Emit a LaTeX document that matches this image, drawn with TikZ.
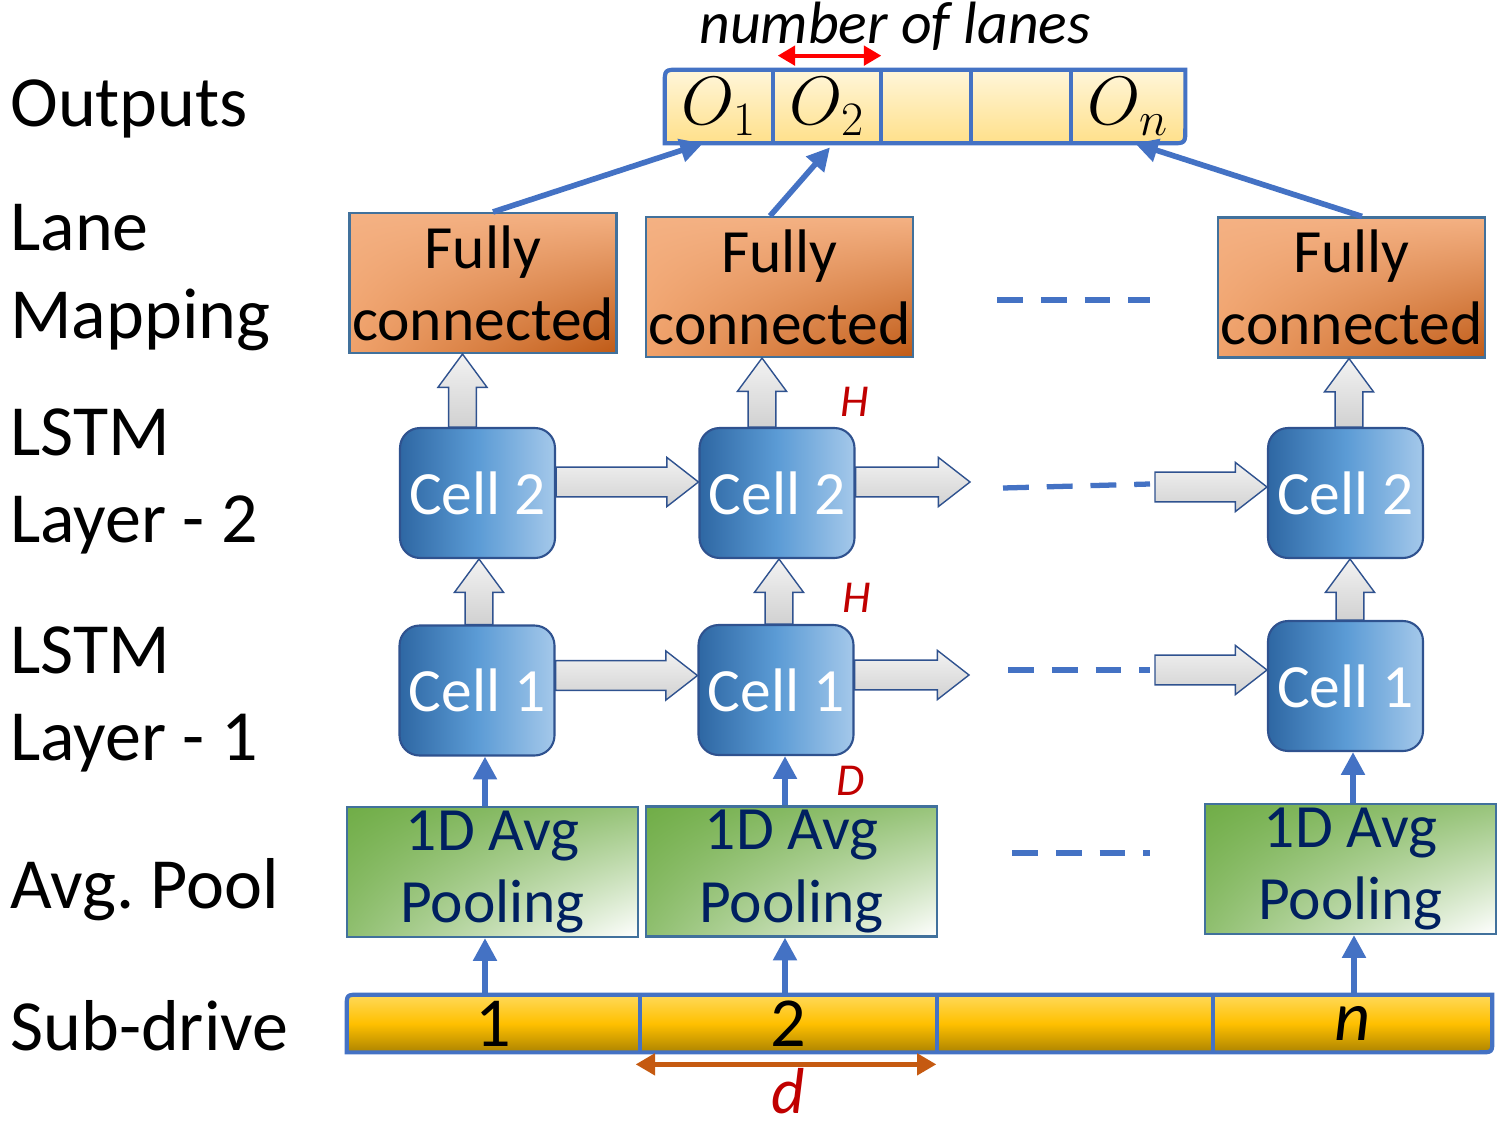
\RequirePackage{fix-cm}
\documentclass[tikz,border=0pt]{standalone}
\usepackage{fontspec}
\setmainfont{Carlito}
\usetikzlibrary{arrows.meta,backgrounds,calc,shadings}
\frenchspacing

\definecolor{lineblue}{HTML}{4472C4}
\definecolor{edgeblue}{HTML}{41719C}
\definecolor{celledge}{HTML}{2F528F}
\definecolor{fclight}{HTML}{F4B183}
\definecolor{fcmid}{HTML}{F0A26B}
\definecolor{fcdark}{HTML}{BF5A16}
\definecolor{celldark}{HTML}{2E67A3}
\definecolor{cellmid}{HTML}{5B9BD5}
\definecolor{celllight}{HTML}{A4C8EA}
\definecolor{poolgreen}{HTML}{70AD47}
\definecolor{navy}{HTML}{002060}
\definecolor{darkred}{HTML}{C00000}
\definecolor{dorange}{HTML}{C55A11}
\definecolor{outtop}{HTML}{FFF6DA}
\definecolor{outbot}{HTML}{FFE08A}
\definecolor{subtop}{HTML}{FFD95A}
\definecolor{submid}{HTML}{FFC000}
\definecolor{subbot}{HTML}{AD8400}

\tikzset{
  fcbox/.style={draw=edgeblue, line width=1.2pt, minimum width=5.34cm, minimum height=2.8cm,
    inner sep=0pt, align=center, upper left=fclight, upper right=fclight,
    lower left=fcmid, lower right=fcdark, font=\fontsize{35}{41}\selectfont},
  cellbox/.style={draw=celledge, line width=1.2pt, rounded corners=0.4cm, minimum width=3.1cm,
    minimum height=2.6cm, inner sep=0pt, left color=celldark, right color=celllight,
    middle color=cellmid, text=white, font=\fontsize{35}{41}\selectfont},
  poolbox/.style={draw=edgeblue, line width=1.2pt, minimum width=5.82cm, minimum height=2.6cm,
    inner sep=0pt, align=center, upper left=poolgreen, upper right=poolgreen!72,
    lower left=poolgreen!78, lower right=white, text=navy, font=\fontsize{35}{41}\selectfont},
  outseg/.style={minimum height=1.46cm, inner sep=0pt, font=\fontsize{39}{42}\selectfont},
  subseg/.style={minimum height=1.14cm, inner sep=0pt, font=\fontsize{40}{44}\selectfont},
  lbl/.style={anchor=base west, inner sep=0pt, font=\fontsize{41}{49}\selectfont},
  redlbl/.style={text=darkred, inner sep=0pt, font=\fontsize{26}{30}\selectfont\itshape},
  barline/.style={draw=lineblue, line width=2.4pt},
  conn/.style={draw=lineblue, line width=3.2pt, -{Triangle[length=13pt,width=13pt]}},
  dashblue/.style={draw=lineblue, line width=3pt, dash pattern=on 14.7pt off 10.2pt},
  blkarrow/.style={draw=celledge, line width=0.8pt, top color=gray!10, bottom color=gray!36},
}

\newcommand{\hblk}[2]{%
  \path[blkarrow] let \p1=(#1), \p2=(#2) in
    ({\x1},{\y1+8.5pt}) -- ({\x2-18pt},{\y1+8.5pt}) -- ({\x2-18pt},{\y1+14pt}) --
    ({\x2},{\y1}) -- ({\x2-18pt},{\y1-14pt}) -- ({\x2-18pt},{\y1-8.5pt}) --
    ({\x1},{\y1-8.5pt}) -- cycle;}
\newcommand{\vblk}[2]{%
  \path[blkarrow] let \p1=(#1), \p2=(#2) in
    ({\x1-7.9pt},{\y1}) -- ({\x1-7.9pt},{\y2-19pt}) -- ({\x1-14pt},{\y2-19pt}) --
    ({\x1},{\y2}) -- ({\x1+14pt},{\y2-19pt}) -- ({\x1+7.9pt},{\y2-19pt}) --
    ({\x1+7.9pt},{\y1}) -- cycle;}

\begin{document}
\begin{tikzpicture}[x=0.02cm, y=-0.02cm]
\useasboundingbox (0,0) rectangle (1500,1125);

% ---------- left labels ----------
\node[lbl] (lOut) at (10,127) {Outputs};
\node[lbl] (lLane) at (10,250) {Lane};
\node[lbl] (lMap) at (10,338) {Mapping};
\node[lbl] (lLstmB) at (10,455) {LSTM};
\node[lbl] (lLayB) at (10,542) {Layer - 2};
\node[lbl] (lLstmA) at (10,673) {LSTM};
\node[lbl] (lLayA) at (10,760) {Layer - 1};
\node[lbl] (lPool) at (10,908) {Avg. Pool};
\node[lbl] (lSub) at (10,1050) {Sub-drive};

% ---------- outputs bar ----------
\node[outseg, minimum width=2.16cm] (o1) at (719,106.5) {$O_1$};
\node[outseg, minimum width=2.16cm] (o2) at (827,106.5) {$O_2$};
\node[outseg, minimum width=1.80cm] (o3) at (926,106.5) {};
\node[outseg, minimum width=2.00cm] (o4) at (1021,106.5) {};
\node[outseg, minimum width=2.28cm] (o5) at (1128,106.5) {$O_n$};
\begin{pgfonlayer}{background}
\path[barline, top color=outtop, bottom color=outbot]
  (o1.south west) -- ([yshift=-0.3cm]o1.north west) .. controls (o1.north west) ..
  ([xshift=0.3cm]o1.north west) -- (o5.north east) -- ([yshift=0.3cm]o5.south east)
  .. controls (o5.south east) .. ([xshift=-0.3cm]o5.south east) -- cycle;
\end{pgfonlayer}
\draw[barline] (o1.north east) -- (o1.south east);
\draw[barline] (o2.north east) -- (o2.south east);
\draw[barline] (o3.north east) -- (o3.south east);
\draw[barline] (o4.north east) -- (o4.south east);

\node[anchor=base, inner sep=0pt, font=\fontsize{34}{40}\selectfont\itshape] (nlanes) at (895,44) {number of lanes};
\draw[draw=red, line width=2.4pt, {Triangle[length=10pt,width=11pt]}-{Triangle[length=10pt,width=11pt]}]
  ([shift={(0.1cm,0.28cm)}]o2.north west) -- ([yshift=0.28cm]o2.north east);

% ---------- fully connected ----------
\node[fcbox] (fc1) at (483,283) {Fully\\connected};
\node[fcbox] (fc2) at (779.5,287) {Fully\\connected};
\node[fcbox] (fc3) at (1351.5,287.5) {Fully\\connected};

\draw[conn] ([xshift=0.2cm]fc1.north) -- ([xshift=-0.32cm]o1.south);
\draw[conn] ([xshift=-0.19cm]fc2.north) -- ([shift={(0.06cm,-0.08cm)}]o2.south);
\draw[conn] ([xshift=0.21cm]fc3.north) -- ([xshift=0.14cm]o5.south);

\coordinate (dfa) at (997,300);
\coordinate (dfb) at (1150,300);
\draw[dashblue] (dfa) -- (dfb);

% ---------- LSTM cells ----------
\node[cellbox] (c2a) at (477.5,493) {Cell 2};
\node[cellbox] (c2b) at (777,493) {Cell 2};
\node[cellbox] (c2c) at (1345.5,493) {Cell 2};
\node[cellbox] (c1a) at (477,690.5) {Cell 1};
\node[cellbox] (c1b) at (776,690) {Cell 1};
\node[cellbox] (c1c) at (1345.5,686) {Cell 1};

\vblk{[xshift=-0.3cm]c2a.north}{fc1.south}
\vblk{[xshift=-0.3cm]c2b.north}{fc2.south}
\vblk{[xshift=0.07cm]c2c.north}{fc3.south}
\vblk{[xshift=0.04cm]c1a.north}{c2a.south}
\vblk{[xshift=0.06cm]c1b.north}{c2b.south}
\vblk{[xshift=0.09cm]c1c.north}{c2c.south}

\coordinate (g2) at (970,482);
\coordinate (h2) at (1155,487);
\coordinate (g1) at (969,675);
\coordinate (h1) at (1155,670);
\hblk{[yshift=0.22cm]c2a.east}{c2b.west}
\hblk{[yshift=0.22cm]c2b.east}{g2}
\hblk{h2}{c2c.west}
\hblk{[yshift=0.3cm]c1a.east}{c1b.west}
\hblk{[yshift=0.3cm]c1b.east}{g1}
\hblk{h1}{c1c.west}

\coordinate (d2a) at (1003,488);
\coordinate (d2b) at (1150,484);
\draw[dashblue] (d2a) -- (d2b);
\coordinate (d1a) at (1008,670);
\coordinate (d1b) at (1150,670);
\draw[dashblue] (d1a) -- (d1b);

\node[redlbl] (hB) at (855,402) {H};
\node[redlbl] (hA) at (857,598) {H};
\node[redlbl] (dD) at (851,781) {D};

% ---------- pooling ----------
\node[poolbox] (p1) at (492.5,872) {1D Avg\\Pooling};
\node[poolbox] (p2) at (791.5,871.5) {1D Avg\\Pooling};
\node[poolbox] (p3) at (1350.5,869) {1D Avg\\Pooling};

\coordinate (dpa) at (1012,853);
\coordinate (dpb) at (1150,853);
\draw[dashblue] (dpa) -- (dpb);

\draw[conn] ([xshift=-0.15cm]p1.north) -- ([xshift=-0.15cm]p1.north |- c1a.south);
\draw[conn] ([xshift=-0.13cm]p2.north) -- ([xshift=-0.13cm]p2.north |- c1b.south);
\draw[conn] ([xshift=0.05cm]p3.north) -- ([xshift=0.05cm]p3.north |- c1c.south);

% ---------- sub-drive bar ----------
\node[subseg, minimum width=5.86cm] (s1) at (493.5,1023.5) {1};
\node[subseg, minimum width=5.94cm] (s2) at (788.5,1023.5) {2};
\node[subseg, minimum width=5.52cm] (s3) at (1075,1023.5) {};
\node[subseg, minimum width=5.58cm] (s4) at (1352.5,1023.5) {\textit{n}};
\begin{pgfonlayer}{background}
\path[barline, top color=subtop, bottom color=subbot, middle color=submid]
  (s1.south west) -- ([yshift=-0.26cm]s1.north west) .. controls (s1.north west) ..
  ([xshift=0.26cm]s1.north west) -- (s4.north east) -- ([yshift=0.26cm]s4.south east)
  .. controls (s4.south east) .. ([xshift=-0.26cm]s4.south east) -- cycle;
\end{pgfonlayer}
\draw[barline] (s1.north east) -- (s1.south east);
\draw[barline] (s2.north east) -- (s2.south east);
\draw[barline] (s3.north east) -- (s3.south east);

\draw[conn] ([xshift=-0.17cm]s1.north) -- ([xshift=-0.17cm]s1.north |- p1.south);
\draw[conn] ([xshift=-0.07cm]s2.north) -- ([xshift=-0.07cm]s2.north |- p2.south);
\draw[conn] ([xshift=0.03cm]s4.north) -- ([xshift=0.03cm]s4.north |- p3.south);

\draw[draw=dorange, line width=2.6pt, {Triangle[length=11pt,width=12pt]}-{Triangle[length=11pt,width=12pt]}]
  ([shift={(-0.08cm,-0.24cm)}]s2.south west) -- ([shift={(-0.02cm,-0.24cm)}]s2.south east);
\node[anchor=base, inner sep=0pt, text=darkred, font=\fontsize{37}{42}\selectfont\itshape] (dlbl) at (788,1113) {d};
\end{tikzpicture}
\end{document}
